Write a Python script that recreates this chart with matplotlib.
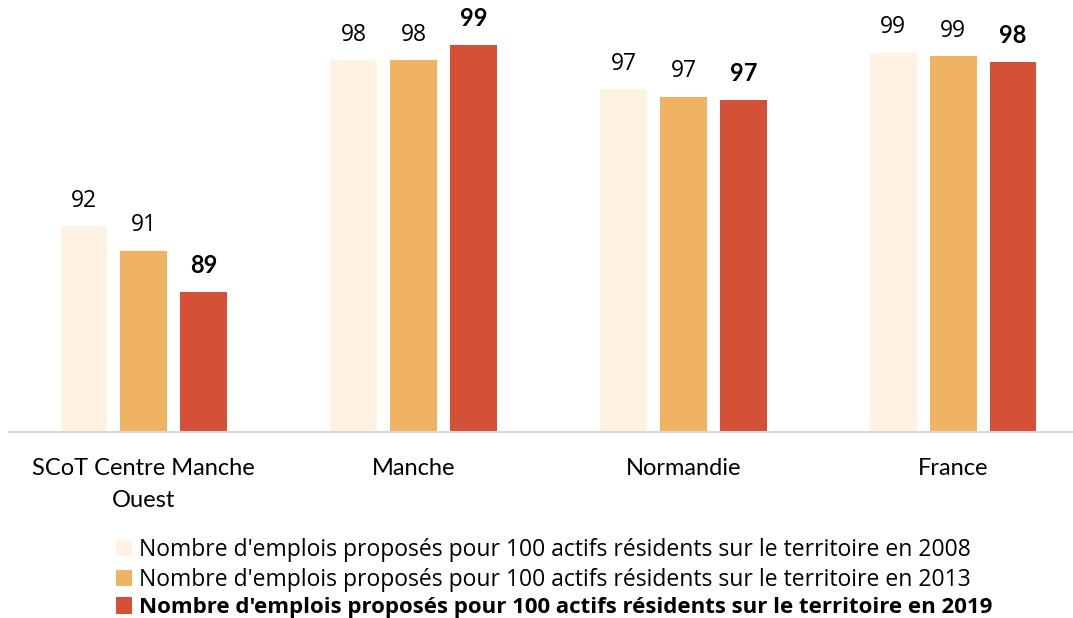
import matplotlib
matplotlib.use("Agg")
import matplotlib.pyplot as plt
import numpy as np
from matplotlib.patches import Patch

categories = ["SCoT Centre Manche\nOuest", "Manche", "Normandie", "France"]
series_names = [
    "Nombre d'emplois proposés pour 100 actifs résidents sur le territoire en 2008",
    "Nombre d'emplois proposés pour 100 actifs résidents sur le territoire en 2013",
    "Nombre d'emplois proposés pour 100 actifs résidents sur le territoire en 2019",
]
v2008 = [91.7, 98.5, 97.3, 98.8]
v2013 = [90.7, 98.5, 97.0, 98.65]
v2019 = [89.0, 99.1, 96.85, 98.4]
colors = ["#FEF2E3", "#F0B363", "#D45137"]

W, H = 1073, 618
fig = plt.figure(figsize=(W / 100, H / 100), dpi=100)
ax_left, ax_right = 9, 1088
ax_bottom, ax_top = 432, 11
ax = fig.add_axes([ax_left / W, (H - ax_bottom) / H, (ax_right - ax_left) / W, (ax_bottom - ax_top) / H])

x = np.arange(len(categories))
step = 0.222
bw = 0.174
series = [v2008, v2013, v2019]
for i, vals in enumerate(series):
    xs = x + (i - 1) * step
    ax.bar(xs, vals, width=bw, color=colors[i], zorder=2)
    for xi, v in zip(xs, vals):
        if i == 2:
            ax.annotate(f"{v:.0f}", (xi, v), xytext=(0, 14), textcoords="offset points",
                        ha="center", va="baseline", fontsize=17, fontweight="bold",
                        family="Lato", color="#000000")
        else:
            ax.annotate(f"{v:.0f}", (xi, v), xytext=(0, 14), textcoords="offset points",
                        ha="center", va="baseline", fontsize=16.5, family="Open Sans",
                        color="#000000")

ax.set_xlim(-0.5, 3.5)
ax.set_ylim(83.3, 100.5)
ax.set_yticks([])
for s in ["left", "right", "top"]:
    ax.spines[s].set_visible(False)
ax.spines["bottom"].set_color("#D9D9D9")
ax.spines["bottom"].set_linewidth(1.5)
ax.set_xticks(x)
ax.set_xticklabels(categories, family="Lato", fontsize=17, linespacing=1.65)
ax.tick_params(axis="x", length=0, pad=19)

handles = [Patch(facecolor=c, edgecolor="none") for c in colors]
leg = fig.legend(handles, series_names, loc="upper left",
                 bbox_to_anchor=(116 / W, 1 - 538 / H), frameon=False,
                 prop={"family": "Open Sans", "size": 16.5}, handlelength=0.7, handleheight=0.7,
                 handletextpad=0.3, labelspacing=0.25, borderpad=0, borderaxespad=0)
leg.get_texts()[2].set_fontweight("bold")
leg.get_texts()[2].set_fontsize(16)

fig.savefig("out.png", dpi=100)
